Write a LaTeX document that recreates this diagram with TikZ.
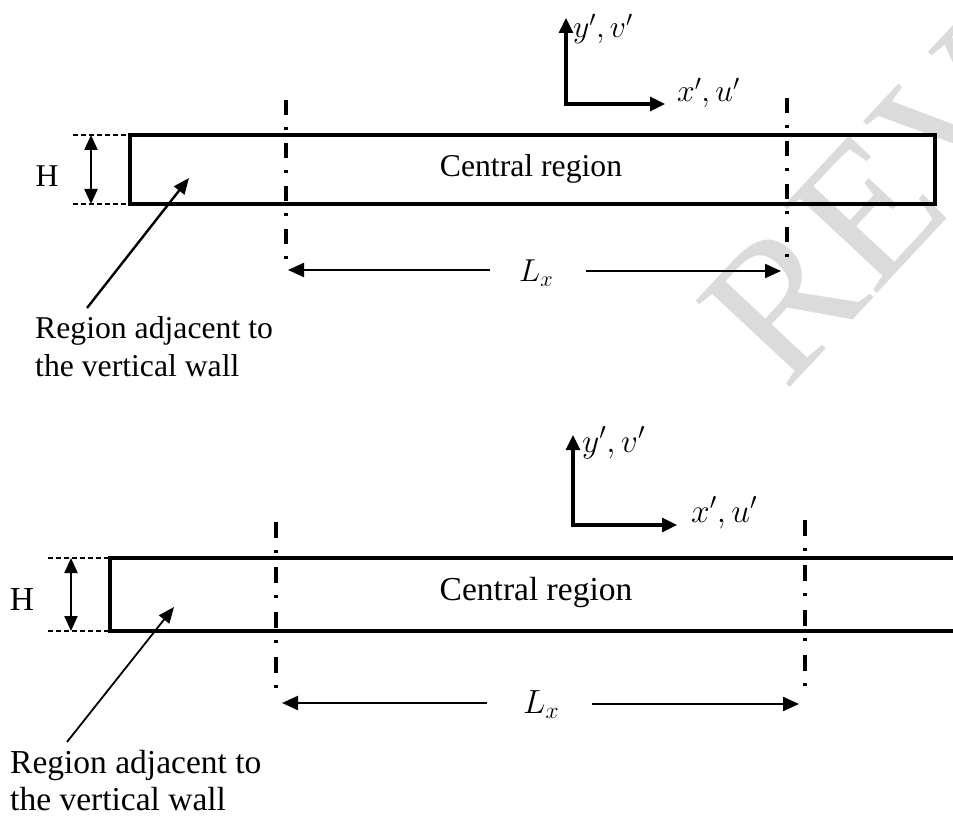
\RequirePackage{fix-cm}
\documentclass[tikz,border=0pt]{standalone}
\usepackage{fontspec}
\setmainfont{Liberation Serif}
\usetikzlibrary{arrows.meta}
\begin{document}
\begin{tikzpicture}[x=1pt,y=-1pt,
  box/.style={line width=3.4pt},
  axis/.style={line width=3.2pt,{Triangle[length=15pt,width=14pt]}-{Triangle[length=15pt,width=14pt]}},
  dim/.style={line width=2.2pt,{Triangle[length=15pt,width=13pt]}-{Triangle[length=15pt,width=13pt]}},
  lxarrow/.style={line width=2.2pt,-{Triangle[length=16pt,width=14pt]}},
  pointer/.style={line width=2.4pt,-{Triangle[length=16pt,width=13pt]}},
  ext/.style={line width=1.2pt,dash pattern=on 5pt off 3pt},
  cline/.style={line width=3.3pt,dash pattern=on 15pt off 12pt on 3pt off 13pt},
  clineb/.style={line width=3.3pt,dash pattern=on 16pt off 12pt on 3pt off 14pt},
  lbl/.style={inner sep=0pt,font=\fontsize{31.7}{38}\selectfont},
  lblb/.style={inner sep=0pt,font=\fontsize{33.5}{37}\selectfont},
  wm/.style={inner sep=0pt,text=black!14,font=\fontsize{195}{195}\selectfont},
]
\useasboundingbox (0,0) rectangle (953,818);
\clip (0,0) rectangle (953,818);
\fill[white] (0,0) rectangle (953,818);
% watermark
\node[wm, rotate=47, anchor=base west] (wmark) at (785,393) {REVIEW};
%% ---------------- top diagram ----------------
\coordinate (tTL) at (130,135);
\coordinate (tBR) at (935,204);
\draw[box] (tTL) rectangle (tBR);
\coordinate (tHt) at (73,135);
\coordinate (tHb) at (73,204);
\draw[ext] (tHt) -- (tTL);
\draw[ext] (tHb) -- (tTL |- tBR);
\coordinate (tHa1) at (91,135);
\coordinate (tHa2) at (91,204);
\draw[dim] (tHa1) -- (tHa2);
\node[lbl, anchor=base] (tH) at (47,187) {H};
\node[lbl, anchor=base] (tC) at (531,177) {Central region};
\coordinate (tLl1) at (286,100);
\coordinate (tLl2) at (286,264);
\draw[cline] (tLl1) -- (tLl2);
\coordinate (tLr1) at (787,98);
\coordinate (tLr2) at (787,263);
\draw[cline] (tLr1) -- (tLr2);
\node[lbl, anchor=base west] (tLx) at (519,282) {$L_x$};
\coordinate (tLa) at (490,270);
\coordinate (tLat) at (288,270);
\draw[lxarrow] (tLa) -- (tLat);
\coordinate (tLb) at (586,271);
\coordinate (tLbt) at (781,271);
\draw[lxarrow] (tLb) -- (tLbt);
\node[lbl, anchor=base west, align=left] (tR) at (35,376) {Region adjacent to\\the vertical wall};
\coordinate (tP1) at (87,308);
\coordinate (tP2) at (189,178);
\draw[pointer] (tP1) -- (tP2);
\coordinate (tO) at (566,104);
\coordinate (tY) at (566,18);
\coordinate (tX) at (665,104);
\draw[axis] (tY) -- (tO) -- (tX);
\node[lbl, anchor=base west] (tYl) at (573,38) {$y',v'$};
\node[lbl, anchor=base west] (tXl) at (677,102) {$x',u'$};
%% ---------------- bottom diagram ----------------
\coordinate (bTL) at (110,558);
\coordinate (bBL) at (110,631);
\coordinate (bTR) at (960,558);
\coordinate (bBR) at (960,631);
\draw[box] (bTR) -- (bTL) -- (bBL) -- (bBR);
\coordinate (bHt) at (48,558);
\coordinate (bHb) at (48,631);
\draw[ext] (bHt) -- (bTL);
\draw[ext] (bHb) -- (bBL);
\coordinate (bHa1) at (71,558);
\coordinate (bHa2) at (71,631);
\draw[dim] (bHa1) -- (bHa2);
\node[lblb, anchor=base] (bH) at (22,610) {H};
\node[lblb, anchor=base] (bC) at (536,600) {Central region};
\coordinate (bLl1) at (276,522);
\coordinate (bLl2) at (276,693);
\draw[clineb] (bLl1) -- (bLl2);
\coordinate (bLr1) at (805,520);
\coordinate (bLr2) at (805,692);
\draw[clineb] (bLr1) -- (bLr2);
\node[lblb, anchor=base west] (bLx) at (523,713) {$L_x$};
\coordinate (bLa) at (487,703);
\coordinate (bLat) at (282,703);
\draw[lxarrow] (bLa) -- (bLat);
\coordinate (bLb) at (592,704);
\coordinate (bLbt) at (799,704);
\draw[lxarrow] (bLb) -- (bLbt);
\node[lblb, anchor=base west, align=left] (bR) at (10,810) {Region adjacent to\\the vertical wall};
\coordinate (bP1) at (67,742);
\coordinate (bP2) at (174,607);
\draw[pointer, line width=1.8pt] (bP1) -- (bP2);
\coordinate (bO) at (573,525);
\coordinate (bY) at (573,435);
\coordinate (bX) at (677,525);
\draw[axis] (bY) -- (bO) -- (bX);
\node[lblb, anchor=base west] (bYl) at (582,452) {$y',v'$};
\node[lblb, anchor=base west] (bXl) at (691,522) {$x',u'$};
\end{tikzpicture}
\end{document}
